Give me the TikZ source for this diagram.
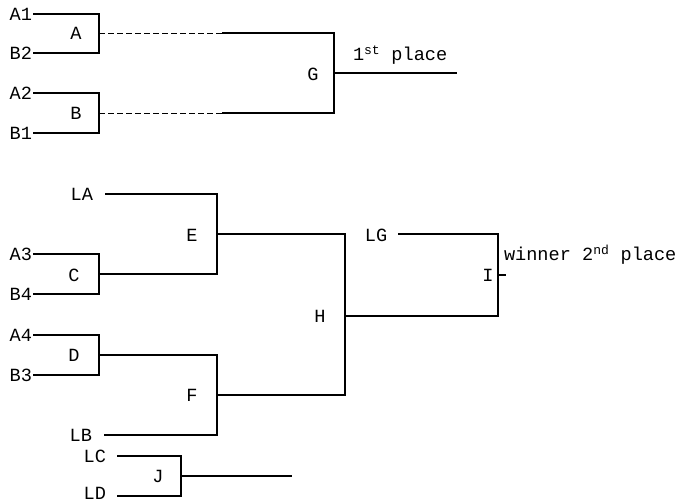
\documentclass[tikz,border=0pt]{standalone}
\usepackage{fontspec}
\setmonofont{Liberation Mono}
\begin{document}
\begin{tikzpicture}[x=1pt,y=-1pt,line width=2pt,
  lab/.style={font=\ttfamily\fontsize{18.6}{18.6}\selectfont,inner sep=0pt},
  rlab/.style={lab,anchor=east},
  dashline/.style={dashed,line width=0.8pt,dash pattern=on 6pt off 3pt}]
\useasboundingbox (0,0) rectangle (690,502);
% ---------- top bracket ----------
\node[rlab] (a1) at (33,14) {A1};
\node[rlab] (b2) at (33,53) {B2};
\node[rlab] (a2) at (33,93) {A2};
\node[rlab] (b1) at (33,133) {B1};
\node[lab] (A) at (76,33) {A};
\node[lab] (B) at (76,113) {B};
\node[lab] (G) at (313,74) {G};
\node[lab,anchor=west] (first) at (352,55) {1\textsuperscript{st} place};
\coordinate (At) at (99,14); \coordinate (Ab) at (99,53); \coordinate (Ao) at (99,33);
\coordinate (Bt) at (99,93); \coordinate (Bb) at (99,133); \coordinate (Bo) at (99,113);
\coordinate (Ad) at (222,33); \coordinate (Bd) at (222,113);
\coordinate (Gt) at (334,33); \coordinate (Gb) at (334,113); \coordinate (Go) at (334,73);
\coordinate (Gend) at (457,73);
\draw (a1.east) -- (At) -- (Ab) -- (b2.east);
\draw (a2.east) -- (Bt) -- (Bb) -- (b1.east);
\draw[dashline] (Ao) -- (Ad);
\draw[dashline] (Bo) -- (Bd);
\draw (Ad) -- (Gt) -- (Gb) -- (Bd);
\draw (Go) -- (Gend);
% ---------- lower bracket ----------
\node[rlab] (LA) at (94,194) {LA};
\node[rlab] (a3) at (33,254) {A3};
\node[rlab] (b4) at (33,294) {B4};
\node[rlab] (a4) at (33,335) {A4};
\node[rlab] (b3) at (33,375) {B3};
\node[rlab] (LB) at (93,435) {LB};
\node[lab] (C) at (74,275) {C};
\node[lab] (D) at (74,355) {D};
\node[lab] (E) at (192,235) {E};
\node[lab] (F) at (192,395) {F};
\node[lab] (H) at (320,316) {H};
\node[lab] (LG) at (376,235) {LG};
\node[lab] (I) at (488,275) {I};
\node[lab,anchor=west] (win) at (503,255) {winner 2\textsuperscript{nd} place};
\coordinate (Ct) at (99,254); \coordinate (Cb) at (99,294); \coordinate (Co) at (99,274);
\coordinate (Dt) at (99,335); \coordinate (Db) at (99,375); \coordinate (Do) at (99,355);
\coordinate (LAs) at (105,194); \coordinate (LBs) at (104,435);
\coordinate (Et) at (217,194); \coordinate (Eb) at (217,274); \coordinate (Eo) at (217,234);
\coordinate (Ft) at (217,355); \coordinate (Fb) at (217,435); \coordinate (Fo) at (217,395);
\coordinate (Ht) at (345,234); \coordinate (Hb) at (345,395); \coordinate (Ho) at (345,316);
\coordinate (LGs) at (398,234);
\coordinate (It) at (498,234); \coordinate (Ib) at (498,316); \coordinate (Io) at (498,275);
\coordinate (Iend) at (506,275);
\draw (a3.east) -- (Ct) -- (Cb) -- (b4.east);
\draw (a4.east) -- (Dt) -- (Db) -- (b3.east);
\draw (LAs) -- (Et) -- (Eb) -- (Co);
\draw (Do) -- (Ft) -- (Fb) -- (LBs);
\draw (Eo) -- (Ht) -- (Hb) -- (Fo);
\draw (LGs) -- (It) -- (Ib) -- (Ho);
\draw (Io) -- (Iend);
% ---------- J ----------
\node[rlab] (LC) at (107,456) {LC};
\node[rlab] (LD) at (107,493) {LD};
\node[lab] (J) at (158,476) {J};
\coordinate (LCs) at (117,456); \coordinate (LDs) at (117,496);
\coordinate (Jt) at (181,456); \coordinate (Jb) at (181,496); \coordinate (Jo) at (181,476);
\coordinate (Jend) at (292,476);
\draw (LCs) -- (Jt) -- (Jb) -- (LDs);
\draw (Jo) -- (Jend);
\end{tikzpicture}
\end{document}
